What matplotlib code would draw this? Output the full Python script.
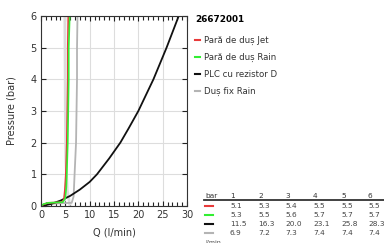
import matplotlib
matplotlib.use("Agg")
import matplotlib.pyplot as plt
from matplotlib.lines import Line2D
from matplotlib.ticker import MultipleLocator

# pressure levels of the summary table (bar)
bars = [1, 2, 3, 4, 5, 6]

# flow (l/min) at each pressure level
jet_tab = [5.1, 5.3, 5.4, 5.5, 5.5, 5.5]
rain_tab = [5.3, 5.5, 5.6, 5.7, 5.7, 5.7]
plc_tab = [11.5, 16.3, 20.0, 23.1, 25.8, 28.3]
fix_tab = [6.9, 7.2, 7.3, 7.4, 7.4, 7.4]

jet_q = [0, 0.5, 1.5, 4.3, 4.7, 4.9, 5.1, 5.3, 5.4, 5.5, 5.5, 5.6]
jet_p = [0, 0.05, 0.1, 0.12, 0.2, 0.5, 1, 2, 3, 4, 5, 6]
rain_q = [0, 0.5, 1.5, 4.5, 5.0, 5.2, 5.3, 5.5, 5.6, 5.7, 5.7, 5.9]
rain_p = [0, 0.06, 0.1, 0.12, 0.25, 0.6, 1, 2, 3, 4, 5, 6]
plc_q = [0, 2, 4, 6, 8, 10, 11.5, 14, 16.3, 18, 20, 23.1, 25.8, 28.3]
plc_p = [0, 0.06, 0.17, 0.32, 0.52, 0.76, 1.0, 1.5, 2.0, 2.45, 3.0, 4.0, 5.0, 6.0]
fix_q = [0, 1, 3, 6.3, 6.7, 6.9, 7.2, 7.3, 7.4, 7.4, 7.5]
fix_p = [0, 0.05, 0.08, 0.1, 0.3, 1, 2, 3, 4, 5, 6]
fix2_q = [5.9, 5.4, 5.1, 5.0, 4.95, 4.9]
fix2_p = [0.05, 0.5, 1.5, 3, 4.5, 6]

labels = ["Pară de duș Jet", "Pară de duș Rain", "PLC cu rezistor D", "Duș fix Rain"]
colors = ["#e83a3a", "#33ee33", "#111111", "#b4b4b4"]

plt.rcParams["font.family"] = "DejaVu Sans"
fig = plt.figure(figsize=(3.84, 2.43), dpi=100)
ax = fig.add_axes([41 / 384, 1 - 206 / 243, 146 / 384, 190 / 243])

ax.plot(fix2_q, fix2_p, color="#dcdcdc", lw=2.0)
ax.plot(fix_q, fix_p, color=colors[3], lw=1.3)
ax.plot(plc_q, plc_p, color=colors[2], lw=1.3)
ax.plot(jet_q, jet_p, color=colors[0], lw=1.2)
ax.plot(rain_q, rain_p, color=colors[1], lw=1.2)

ax.set_xlim(0, 30)
ax.set_ylim(0, 6)
ax.xaxis.set_major_locator(MultipleLocator(5))
ax.xaxis.set_minor_locator(MultipleLocator(1))
ax.set_yticks(range(0, 7))
ax.grid(True, which="major", color="#dddddd", lw=0.8)
ax.set_axisbelow(True)
ax.tick_params(axis="both", which="major", direction="in", top=True, right=True,
               labelsize=7, length=3.5, width=0.8, color="#222222", labelcolor="#333333", pad=3)
ax.tick_params(axis="x", which="minor", direction="in", top=True, bottom=True,
               length=3, width=0.8, color="#222222")
for s in ax.spines.values():
    s.set_color("#333333")
    s.set_linewidth(0.8)
ax.set_xlabel("Q (l/min)", fontsize=7, color="#333333", labelpad=5)
ax.set_ylabel("Pressure (bar)", fontsize=7, color="#333333", labelpad=10)

handles = [Line2D([], [], color=c, lw=1.5) for c in colors]
leg = fig.legend(handles, labels, loc="upper left", bbox_to_anchor=(187 / 384, 1 - 7 / 243),
                 frameon=False, fontsize=6.2, handlelength=0.6, handletextpad=0.45,
                 labelspacing=0.9, title="26672001", alignment="left",
                 title_fontproperties={"weight": "bold", "size": 6.4})
leg._legend_box.sep = 9
for t in leg.get_texts():
    t.set_color("#333333")

# summary table
tab = fig.add_axes([0, 0, 1, 1], facecolor="none")
tab.set_axis_off()
tab.set_xlim(0, 384)
tab.set_ylim(243, 0)
col_x = [230, 258, 285, 313, 341, 368]
fs = 5.3
tab.text(205, 196, "bar", fontsize=fs, color="#333333", va="center")
for x, b in zip(col_x, bars):
    tab.text(x, 196, str(b), fontsize=fs, color="#333333", va="center")
tab.plot([204, 384], [200, 200], color="#333333", lw=1.3)
rows = [jet_tab, rain_tab, plc_tab, fix_tab]
row_y = [205.5, 214.5, 223.5, 233]
for vals, c, y in zip(rows, colors, row_y):
    tab.plot([205, 213], [y, y], color=c, lw=1.5)
    for x, v in zip(col_x, vals):
        tab.text(x, y, f"{v:.1f}", fontsize=fs, color="#444444", va="center")
tab.text(205, 241.5, "l/min", fontsize=4.5, color="#444444", va="center")

fig.savefig("out.png", dpi=100)
